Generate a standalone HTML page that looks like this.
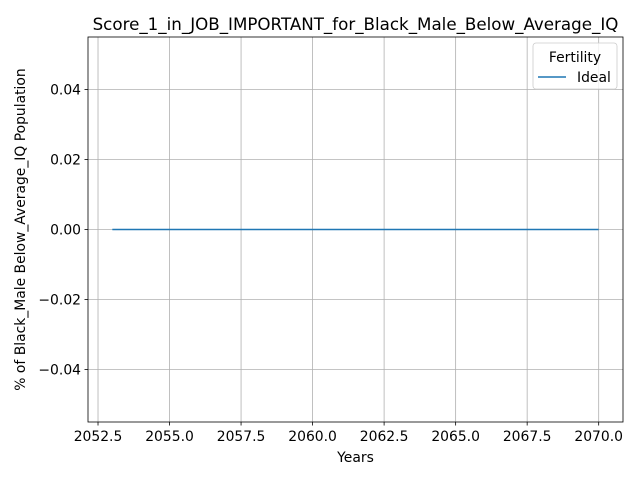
<!DOCTYPE html>
<html><head><meta charset="utf-8"><style>
body{margin:0;background:#fff}
text{font-family:"DejaVu Sans","Liberation Sans",sans-serif;fill:#000}
</style></head><body>
<svg id="chart" width="640" height="480"></svg>
<script>
const years=[2053,2054,2055,2056,2057,2058,2059,2060,2061,2062,2063,2064,2065,2066,2067,2068,2069,2070];
const idealValues=[0,0,0,0,0,0,0,0,0,0,0,0,0,0,0,0,0,0];
const xTicks=[2052.5,2055,2057.5,2060,2062.5,2065,2067.5,2070];
const xTickLabels=["2052.5","2055.0","2057.5","2060.0","2062.5","2065.0","2067.5","2070.0"];
const yTicks=[-0.04,-0.02,0,0.02,0.04];
const yTickLabels=["\u22120.04","\u22120.02","0.00","0.02","0.04"];
const L=88,R=623,T=37,B=422;
const xmin=2052.15,xmax=2070.85,ymin=-0.055,ymax=0.055;
const sx=v=>L+(v-xmin)/(xmax-xmin)*(R-L);
const sy=v=>B-(v-ymin)/(ymax-ymin)*(B-T);
const svg=document.getElementById('chart');
const NS='http://www.w3.org/2000/svg';
function mk(tag,attrs,txt){const e=document.createElementNS(NS,tag);for(const k in attrs)e.setAttribute(k,attrs[k]);if(txt!=null)e.textContent=txt;svg.appendChild(e);return e;}
xTicks.forEach((t,i)=>{const x=sx(t);
 let g=mk('line',{x1:x,x2:x,y1:T,y2:B,stroke:'#b0b0b0','stroke-width':0.8});
 
 
 mk('line',{x1:x,x2:x,y1:B,y2:B+3.5,stroke:'#000','stroke-width':0.8});
 let l=mk('text',{x:x,y:B+19,'text-anchor':'middle','font-size':13.9},xTickLabels[i]);
 
 
});
yTicks.forEach((t,i)=>{const y=sy(t);
 let g=mk('line',{x1:L,x2:R,y1:y,y2:y,stroke:'#b0b0b0','stroke-width':0.8});
 
 
 mk('line',{x1:L-3.5,x2:L,y1:y,y2:y,stroke:'#000','stroke-width':0.8});
 let l=mk('text',{x:L-7,y:y+5,'text-anchor':'end','font-size':13.9},yTickLabels[i]);
 
 
});
const pts=years.map((y,i)=>sx(y)+','+sy(idealValues[i])).join(' ');
let line=mk('polyline',{points:pts,fill:'none',stroke:'#1f77b4','stroke-width':1.5});


let frame=mk('rect',{x:L,y:T,width:R-L,height:B-T,fill:'none',stroke:'#000','stroke-width':0.8});


let title=mk('text',{x:(L+R)/2,y:30,'text-anchor':'middle','font-size':16.7},'Score_1_in_JOB_IMPORTANT_for_Black_Male_Below_Average_IQ');


let xt=mk('text',{x:(L+R)/2,y:462,'text-anchor':'middle','font-size':13.9},'Years');


let yt=mk('text',{x:25,y:(T+B)/2,'text-anchor':'middle','font-size':13.9,transform:'rotate(-90 25 '+(T+B)/2+')'},'% of Black_Male Below_Average_IQ Population');


let lg=mk('rect',{x:533,y:43,width:84,height:46,rx:3,fill:'#fff','fill-opacity':0.8,stroke:'#ccc','stroke-width':0.8});


let lt=mk('text',{x:575,y:62,'text-anchor':'middle','font-size':13.9},'Fertility');


let ll=mk('line',{x1:538,x2:566,y1:77,y2:77,stroke:'#1f77b4','stroke-width':1.5});


let le=mk('text',{x:577,y:82,'font-size':13.9},'Ideal');


</script>
</body></html>
